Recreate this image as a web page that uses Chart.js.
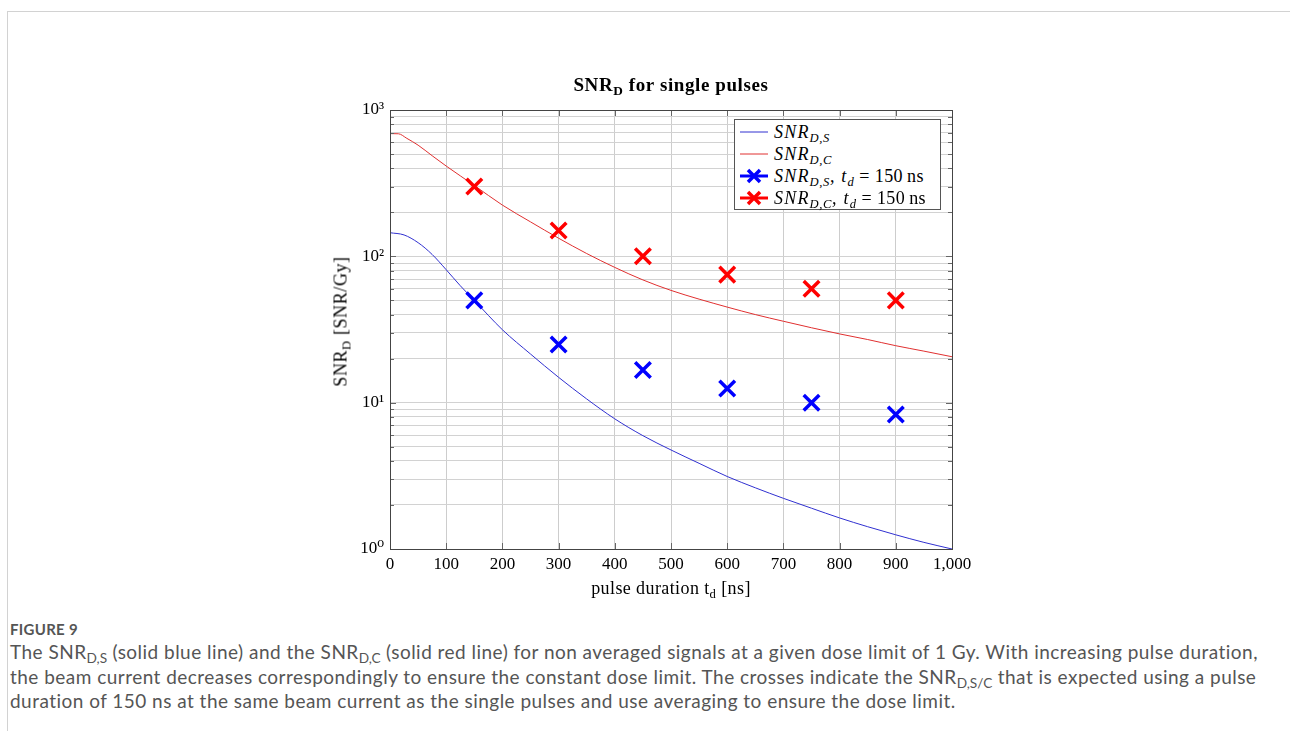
<!DOCTYPE html>
<html>
<head>
<meta charset="utf-8">
<title>SNR_D for single pulses</title>
<script src="https://cdn.jsdelivr.net/npm/chart.js@4.4.0/dist/chart.umd.min.js"></script>
<style>
    body { margin: 0; width: 1290px; height: 731px; overflow: hidden; background: #fff; position: relative; font-family: "Liberation Serif", "DejaVu Serif", serif; }
    .frame { position: absolute; left: 7px; top: 11px; width: 1300px; height: 740px; border-top: 1px solid #d2d2d2; border-left: 1px solid #d2d2d2; }
    #chartCanvas { position: absolute; left: 0; top: 0; }
    sub { font-size: 70%; vertical-align: -0.3em; line-height: 0; }
    .title { position: absolute; left: 421px; width: 500px; top: 74px; text-align: center; font-weight: bold; font-size: 19px; letter-spacing: 0.6px; }
    .xlabel { position: absolute; left: 421px; width: 500px; top: 578px; text-align: center; font-size: 18px; letter-spacing: 0.4px; }
    .ylabel { position: absolute; left: 191px; width: 300px; top: 311px; text-align: center; font-size: 18px; letter-spacing: 0.6px; transform: rotate(-90deg); }
    .legend { position: absolute; left: 734px; top: 119px; width: 207px; height: 91px; border: 1px solid #555; background: #fff; box-sizing: border-box; padding-top: 1px; }
    .legend .row { height: 22px; display: flex; align-items: center; font-size: 18px; font-style: italic; white-space: nowrap; letter-spacing: 1.2px; }
    .legend sub { vertical-align: -0.35em; letter-spacing: 0.6px; }
    .legend svg { margin-left: 5px; margin-right: 6px; flex: none; }
    .legend .up { font-style: normal; letter-spacing: 0.4px; }
    .caption { position: absolute; left: 10px; top: 620px; font-family: Lato, "Open Sans", sans-serif; color: #555; white-space: nowrap; }
    .caption .fig { font-size: 15px; font-weight: bold; letter-spacing: 0.3px; color: #555; margin-bottom: 2px; }
    .caption .txt { font-size: 19px; line-height: 24.6px; letter-spacing: 0.47px; }
    .caption sub { font-size: 72%; vertical-align: -0.3em; letter-spacing: 0; }
</style>
</head>
<body>
<div class="frame"></div>
<canvas id="chartCanvas" width="1290" height="610"></canvas>

<div class="title">SNR<sub>D</sub> for single pulses</div>
<div class="xlabel">pulse duration t<sub>d</sub> [ns]</div>
<div class="ylabel">SNR<sub>D</sub> [SNR/Gy]</div>

<div class="legend">
    <div class="row"><svg width="28" height="12"><line x1="0" y1="6" x2="28" y2="6" stroke="#3030d0" stroke-width="1"/></svg><span>SNR<sub>D,S</sub></span></div>
    <div class="row"><svg width="28" height="12"><line x1="0" y1="6" x2="28" y2="6" stroke="#e03030" stroke-width="1"/></svg><span>SNR<sub>D,C</sub></span></div>
    <div class="row"><svg width="28" height="16"><line x1="0" y1="8" x2="28" y2="8" stroke="#0000ff" stroke-width="3"/><path d="M8 2 L20 14 M20 2 L8 14" stroke="#0000ff" stroke-width="3.5"/></svg><span>SNR<sub>D,S</sub>, t<sub>d</sub><span class="up">&nbsp;= 150&thinsp;ns</span></span></div>
    <div class="row"><svg width="28" height="16"><line x1="0" y1="8" x2="28" y2="8" stroke="#ff0000" stroke-width="3"/><path d="M8 2 L20 14 M20 2 L8 14" stroke="#ff0000" stroke-width="3.5"/></svg><span>SNR<sub>D,C</sub>, t<sub>d</sub><span class="up">&nbsp;= 150&thinsp;ns</span></span></div>
</div>

<div class="caption">
    <div class="fig">FIGURE 9</div>
    <div class="txt">The SNR<sub>D,S</sub> (solid blue line) and the SNR<sub>D,C</sub> (solid red line) for non averaged signals at a given dose limit of 1 Gy. With increasing pulse duration,<br>the beam current decreases correspondingly to ensure the constant dose limit. The crosses indicate the SNR<sub>D,S/C</sub> that is expected using a pulse<br>duration of 150 ns at the same beam current as the single pulses and use averaging to ensure the dose limit.</div>
</div>

<script>
// Data (pulse duration in ns, SNR per Gy)
const lineS_t = [0, 25, 50, 75, 100, 125, 150, 200, 250, 300, 350, 400, 450, 500, 550, 600, 650, 700, 750, 800, 850, 900, 950, 1000];
const lineS_v = [145, 140, 124, 103, 81, 63, 50, 31.5, 21.5, 14.9, 10.6, 7.75, 5.95, 4.75, 3.85, 3.13, 2.62, 2.22, 1.9, 1.63, 1.42, 1.25, 1.11, 1.0];

const lineC_t = [0, 15, 30, 50, 75, 100, 125, 150, 200, 250, 300, 350, 400, 450, 500, 550, 600, 650, 700, 750, 800, 850, 900, 950, 1000];
const lineC_v = [690, 688, 640, 575, 487, 414, 355, 305, 224, 172, 133, 104.5, 84, 69, 58.5, 51, 45, 40, 36, 32.5, 29.5, 27, 24.5, 22.5, 20.6];

const cross_t = [150, 300, 450, 600, 750, 900];
const crossS_v = [50, 25, 16.7, 12.5, 10, 8.3];
const crossC_v = [300, 150, 100, 75, 60, 50];

const xTicks = [0, 100, 200, 300, 400, 500, 600, 700, 800, 900, 1000];
const yTicks = [1, 2, 3, 4, 5, 6, 7, 8, 9, 10, 20, 30, 40, 50, 60, 70, 80, 90, 100, 200, 300, 400, 500, 600, 700, 800, 900, 1000];
const yTickLabels = { 1: '10⁰', 10: '10¹', 100: '10²', 1000: '10³' };

function toPoints(xs, ys) {
    return xs.map((x, i) => ({ x: x, y: ys[i] }));
}

// Frame round the plot area with small inward ticks (pgfplots style)
const framePlugin = {
    id: 'frame',
    afterDatasetsDraw(chart) {
        const { ctx, chartArea: a, scales } = chart;
        ctx.save();
        ctx.strokeStyle = '#666';
        ctx.lineWidth = 1;
        ctx.beginPath();
        yTicks.forEach(v => {
            const y = Math.round(scales.y.getPixelForValue(v)) + 0.5;
            const len = yTickLabels[v] ? 6 : 4;
            ctx.moveTo(a.left, y); ctx.lineTo(a.left + len, y);
            ctx.moveTo(a.right, y); ctx.lineTo(a.right - len, y);
        });
        xTicks.forEach(v => {
            const x = Math.round(scales.x.getPixelForValue(v)) + 0.5;
            ctx.moveTo(x, a.bottom); ctx.lineTo(x, a.bottom - 6);
            ctx.moveTo(x, a.top); ctx.lineTo(x, a.top + 6);
        });
        ctx.stroke();
        ctx.strokeStyle = '#444';
        ctx.strokeRect(Math.round(a.left) + 0.5, Math.round(a.top) + 0.5, Math.round(a.right - a.left), Math.round(a.bottom - a.top));
        ctx.restore();
    }
};

const serif = '"Liberation Serif", "DejaVu Serif", serif';

new Chart(document.getElementById('chartCanvas').getContext('2d'), {
    type: 'scatter',
    data: {
        datasets: [{
            label: 'SNR_D,S',
            type: 'line',
            data: toPoints(lineS_t, lineS_v),
            borderColor: '#3030d0',
            borderWidth: 1,
            pointRadius: 0,
            cubicInterpolationMode: 'monotone',
            order: 2
        }, {
            label: 'SNR_D,C',
            type: 'line',
            data: toPoints(lineC_t, lineC_v),
            borderColor: '#e03030',
            borderWidth: 1,
            pointRadius: 0,
            cubicInterpolationMode: 'monotone',
            order: 2
        }, {
            label: 'SNR_D,S, td = 150 ns',
            data: toPoints(cross_t, crossS_v),
            showLine: false,
            pointStyle: 'crossRot',
            pointRadius: 11,
            pointBorderWidth: 3.5,
            borderColor: '#0000ff',
            order: 1
        }, {
            label: 'SNR_D,C, td = 150 ns',
            data: toPoints(cross_t, crossC_v),
            showLine: false,
            pointStyle: 'crossRot',
            pointRadius: 11,
            pointBorderWidth: 3.5,
            borderColor: '#ff0000',
            order: 1
        }]
    },
    options: {
        responsive: false,
        animation: false,
        layout: { padding: { left: 330, right: 338, top: 110, bottom: 21 } },
        plugins: {
            legend: { display: false },
            tooltip: { enabled: false }
        },
        scales: {
            x: {
                type: 'linear',
                min: 0,
                max: 1000,
                afterBuildTicks: scale => { scale.ticks = xTicks.map(v => ({ value: v })); },
                afterFit: scale => { scale.height = 40; },
                ticks: {
                    autoSkip: false,
                    maxRotation: 0,
                    padding: 5,
                    color: '#000',
                    font: { family: serif, size: 17 },
                    callback: v => v.toLocaleString('en-US')
                },
                grid: { color: '#cdcdcd', lineWidth: 1, drawTicks: false },
                border: { display: false }
            },
            y: {
                type: 'logarithmic',
                min: 1,
                max: 1000,
                afterBuildTicks: scale => { scale.ticks = yTicks.map(v => ({ value: v })); },
                afterFit: scale => { scale.width = 60; },
                ticks: {
                    autoSkip: false,
                    padding: 6,
                    color: '#000',
                    font: { family: serif, size: 17 },
                    callback: v => yTickLabels[v] || ''
                },
                grid: { color: '#d2d2d2', lineWidth: 1, drawTicks: false },
                border: { display: false }
            }
        }
    },
    plugins: [framePlugin]
});
</script>
</body>
</html>
